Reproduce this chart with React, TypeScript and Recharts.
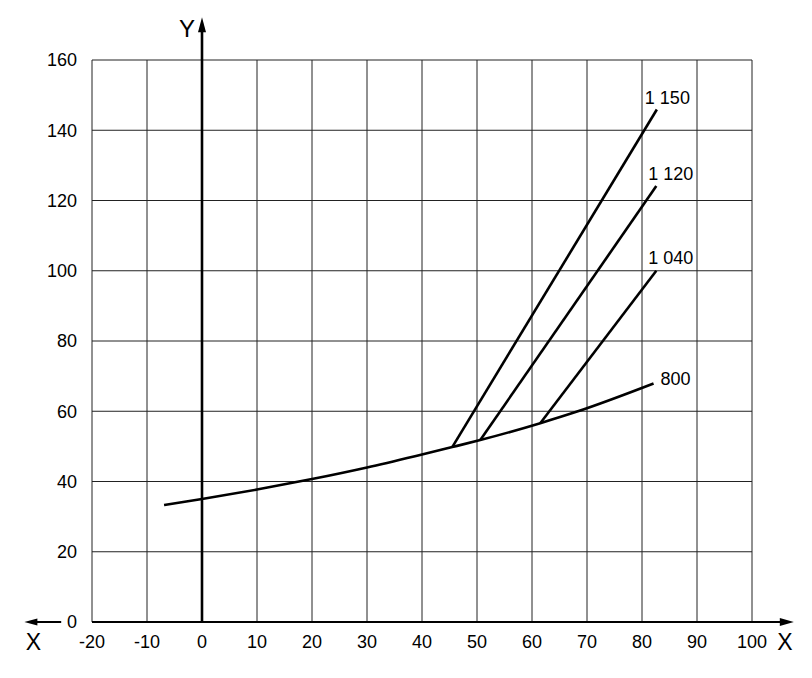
import React from "react";
import { LineChart, Line, XAxis, YAxis, CartesianGrid, ReferenceLine } from "recharts";

// axis ticks
const X_TICKS = [-20, -10, 0, 10, 20, 30, 40, 50, 60, 70, 80, 90, 100];
const Y_TICKS = [0, 20, 40, 60, 80, 100, 120, 140, 160];

// base curve (800) and the three branches
const CURVE_800 = [
  { x: -6.9, y: 33.3 },
  { x: 0, y: 35.0 },
  { x: 10, y: 37.7 },
  { x: 20, y: 40.7 },
  { x: 30, y: 44.0 },
  { x: 40, y: 47.7 },
  { x: 45.5, y: 49.8 },
  { x: 50.6, y: 51.8 },
  { x: 61.5, y: 56.6 },
  { x: 68.2, y: 59.9 },
  { x: 82.1, y: 67.9 },
];
const LINE_1040 = [
  { x: 61.5, y: 56.6 },
  { x: 82.6, y: 100.0 },
];
const LINE_1120 = [
  { x: 50.6, y: 51.8 },
  { x: 82.6, y: 124.1 },
];
const LINE_1150 = [
  { x: 45.5, y: 49.8 },
  { x: 82.7, y: 145.9 },
];

// axis arrow extents (data units)
const X_AXIS_END = 107.6;
const X_LEFT_ARROW = [-25.6, -32.3];
const Y_AXIS_END = 172.2;

const FONT = "'Liberation Sans', Arial, Helvetica, sans-serif";

type ArrowProps = {
  len: number;
  half: number;
  width: number;
  text?: string;
  tdx?: number;
  tdy?: number;
  fontSize?: number;
};

function arrowShape({ len, half, width, text, tdx = 0, tdy = 0, fontSize = 23 }: ArrowProps) {
  return (p: any) => {
    const x1 = Number(p.x1), y1 = Number(p.y1), x2 = Number(p.x2), y2 = Number(p.y2);
    const dx = x2 - x1, dy = y2 - y1;
    const d = Math.hypot(dx, dy) || 1;
    const ux = dx / d, uy = dy / d;
    const bx = x2 - ux * len, by = y2 - uy * len;
    const px = -uy * half, py = ux * half;
    return (
      <g>
        <line x1={x1} y1={y1} x2={bx + ux} y2={by + uy} stroke="#000" strokeWidth={width} />
        <polygon points={`${x2},${y2} ${bx + px},${by + py} ${bx - px},${by - py}`} fill="#000" />
        {text ? (
          <text x={x2 + tdx} y={y2 + tdy} textAnchor="middle" dominantBaseline="central" fontSize={fontSize} fill="#000" fontFamily={FONT}>
            {text}
          </text>
        ) : null}
      </g>
    );
  };
}

function endLabel(data: { x: number; y: number }[], text: string, dx: number, dy: number) {
  const last = data[data.length - 1];
  return (p: any) => {
    const isLast = p.index === data.length - 1 || (p.index === undefined && Number(p.value) === last.y);
    if (!isLast) return null;
    return (
      <text x={Number(p.x) + dx} y={Number(p.y) + dy} fontSize={18} fill="#000" fontFamily={FONT}>
        {text}
      </text>
    );
  };
}

export default function App() {
  return (
    <div style={{ position: "absolute", left: 0, top: 0, width: 812, height: 678, background: "#fff", fontFamily: FONT }}>
      <LineChart width={812} height={678} margin={{ top: 60, right: 60, bottom: 26, left: 0 }}>
        <CartesianGrid stroke="#222" strokeWidth={1} />
        <XAxis
          type="number"
          dataKey="x"
          domain={[-20, 100]}
          ticks={X_TICKS}
          allowDataOverflow
          axisLine={false}
          tickLine={false}
          height={30}
          tick={{ fill: "#000", fontSize: 18 }}
          tickMargin={7}
        />
        <YAxis
          type="number"
          dataKey="y"
          domain={[0, 160]}
          ticks={Y_TICKS}
          allowDataOverflow
          axisLine={false}
          tickLine={false}
          width={92}
          tick={{ fill: "#000", fontSize: 18 }}
          tickMargin={9}
        />
        <ReferenceLine
          ifOverflow="visible"
          segment={[{ x: -20, y: 0 }, { x: X_AXIS_END, y: 0 }]}
          shape={arrowShape({ len: 14, half: 4, width: 2, text: "X", tdx: -9, tdy: 20 })}
        />
        <ReferenceLine
          ifOverflow="visible"
          segment={[{ x: X_LEFT_ARROW[0], y: 0 }, { x: X_LEFT_ARROW[1], y: 0 }]}
          shape={arrowShape({ len: 13, half: 3.5, width: 2, text: "X", tdx: 9, tdy: 20 })}
        />
        <ReferenceLine
          ifOverflow="visible"
          segment={[{ x: 0, y: 0 }, { x: 0, y: Y_AXIS_END }]}
          shape={arrowShape({ len: 15, half: 4, width: 2.6, text: "Y", tdx: -15, tdy: 11, fontSize: 24 })}
        />
        <Line
          data={CURVE_800}
          dataKey="y"
          type="monotone"
          stroke="#000"
          strokeWidth={2.6}
          dot={false}
          isAnimationActive={false}
          label={endLabel(CURVE_800, "800", 7, 1)}
        />
        <Line
          data={LINE_1040}
          dataKey="y"
          type="linear"
          stroke="#000"
          strokeWidth={2.6}
          dot={false}
          isAnimationActive={false}
          label={endLabel(LINE_1040, "1 040", -8, -7)}
        />
        <Line
          data={LINE_1120}
          dataKey="y"
          type="linear"
          stroke="#000"
          strokeWidth={2.6}
          dot={false}
          isAnimationActive={false}
          label={endLabel(LINE_1120, "1 120", -8, -6)}
        />
        <Line
          data={LINE_1150}
          dataKey="y"
          type="linear"
          stroke="#000"
          strokeWidth={2.6}
          dot={false}
          isAnimationActive={false}
          label={endLabel(LINE_1150, "1 150", -12, -6)}
        />
      </LineChart>
    </div>
  );
}
